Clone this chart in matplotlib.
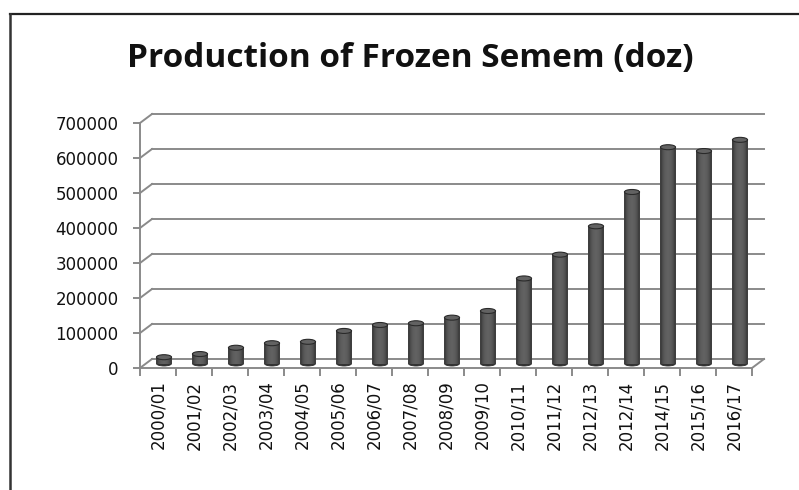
import numpy as np
import matplotlib
matplotlib.use("Agg")
import matplotlib.pyplot as plt
from matplotlib.transforms import offset_copy
from matplotlib.patches import Ellipse
from matplotlib.lines import Line2D

# data
seasons = ["2000/01", "2001/02", "2002/03", "2003/04", "2004/05", "2005/06",
           "2006/07", "2007/08", "2008/09", "2009/10", "2010/11", "2011/12",
           "2012/13", "2012/14", "2014/15", "2015/16", "2016/17"]
doses = [18000, 27000, 45000, 58000, 62000, 93000, 110000, 115000, 131000,
         150000, 243000, 311000, 392000, 490000, 618000, 607000, 639000]
y_ticks = [0, 100000, 200000, 300000, 400000, 500000, 600000, 700000]

fig = plt.figure(figsize=(7.99, 4.90), dpi=100)
ax = fig.add_axes([140/799, 1-368/490, 612/799, 245/490])
ax.set_xlim(-0.5, len(seasons) - 0.5)
ax.set_ylim(0, 700000)

grid_col = "#8a8a8a"
# fake depth: back wall and middle (where the cylinders stand)
back = offset_copy(ax.transData, fig=fig, x=12*0.72, y=9*0.72, units="points")
mid = offset_copy(ax.transData, fig=fig, x=6*0.72, y=4.5*0.72, units="points")

x0, x1 = -0.5, len(seasons) - 0.5
for yv in y_ticks:
    ax.plot([x0, x1], [yv, yv], color=grid_col, lw=1.4, transform=back,
            clip_on=False, zorder=1)
    # left wall diagonals
    p0 = ax.transData.transform((x0, yv))
    p1 = back.transform((x0, yv))
    fig.add_artist(Line2D([p0[0]/799, p1[0]/799], [p0[1]/490, p1[1]/490],
                          color=grid_col, lw=1.4, transform=fig.transFigure))
# floor right edge diagonal
p0 = ax.transData.transform((x1, 0))
p1 = back.transform((x1, 0))
fig.add_artist(Line2D([p0[0]/799, p1[0]/799], [p0[1]/490, p1[1]/490],
                      color=grid_col, lw=1.4, transform=fig.transFigure))

# cylinders
w = 0.42
n = 14
t = (np.arange(n) + 0.5) / n
shade = 0.18 + 0.2 * np.sin(np.pi * t) ** 0.5
cap_h = 5.0 / 245 * 700000
xs = np.arange(len(seasons))
for xi, v in zip(xs, doses):
    ax.add_patch(Ellipse((xi, 0), w, cap_h, facecolor="#333333",
                         edgecolor="#2a2a2a", lw=0.6, transform=mid,
                         zorder=3, clip_on=False))
    left = xi - w/2
    ax.bar(left + (np.arange(n) + 0.5) * w / n, [v]*n, width=w/n*1.02,
           color=[str(s) for s in shade], transform=mid, zorder=4,
           clip_on=False, linewidth=0)
    ax.add_patch(Ellipse((xi, v), w, cap_h, facecolor="#626262",
                         edgecolor="#2a2a2a", lw=0.8, transform=mid,
                         zorder=5, clip_on=False))

# axes
for s in ["top", "right"]:
    ax.spines[s].set_visible(False)
for s in ["left", "bottom"]:
    ax.spines[s].set_color(grid_col)
    ax.spines[s].set_linewidth(1.4)
ax.set_yticks(y_ticks)
ax.set_yticklabels([str(v) for v in y_ticks])
ax.tick_params(axis="y", direction="out", length=5, width=1.4, color=grid_col,
               pad=10.5, labelsize=12, labelcolor="#111111")
ax.set_xticks(np.arange(len(seasons) + 1) - 0.5)
ax.set_xticklabels([])
ax.tick_params(axis="x", which="major", direction="out", length=6, width=1.4,
               color=grid_col)
ax.set_xticks(xs, minor=True)
ax.set_xticklabels(seasons, minor=True, rotation=90, fontsize=12,
                   color="#111111", va="top")
ax.tick_params(axis="x", which="minor", length=0, pad=9)
ax.patch.set_visible(False)

fig.text(0.513, 1 - 58/490, "Production of Frozen Semem (doz)",
         ha="center", va="center", fontsize=24, fontweight="bold",
         family="Open Sans", color="#111111")

# outer frame (partly cut off in the original)
fig.add_artist(Line2D([9.5/799, 1], [1 - 14/490, 1 - 14/490], color="#222222",
                      lw=1.6, transform=fig.transFigure))
fig.add_artist(Line2D([9.5/799, 9.5/799], [0, 1 - 14/490], color="#333333",
                      lw=1.8, transform=fig.transFigure))

fig.savefig("out.png", dpi=100)
